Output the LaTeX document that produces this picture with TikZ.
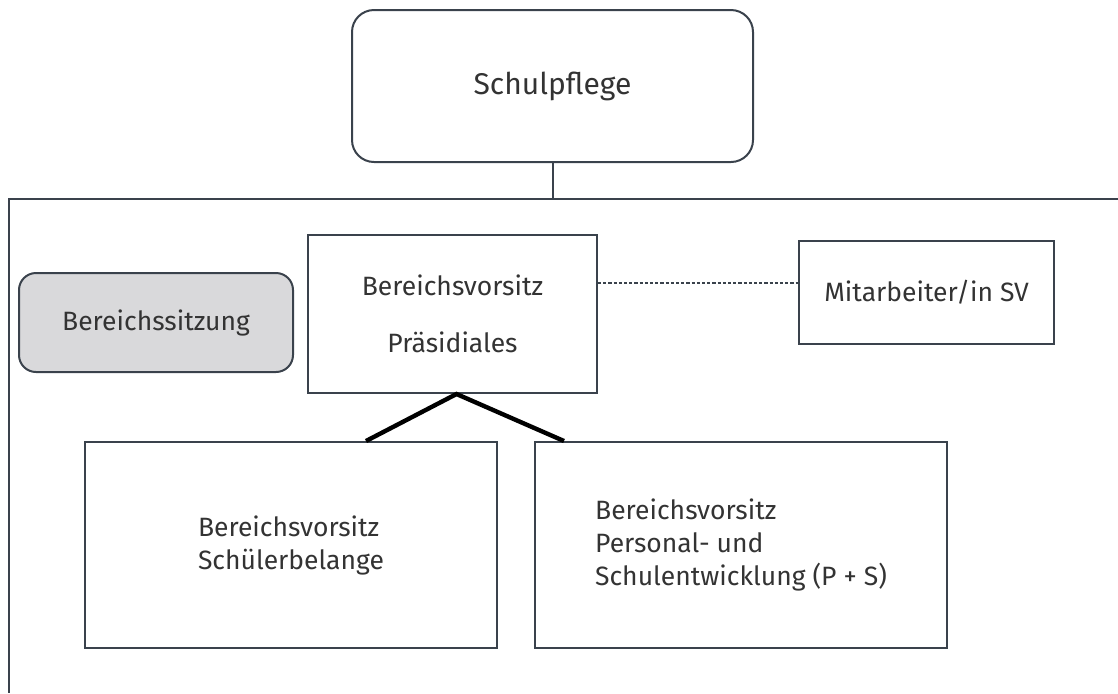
\documentclass[tikz,border=0pt]{standalone}
\usepackage{fontspec}
\setmainfont{Fira Sans}
\definecolor{rahmen}{HTML}{3A424C}
\definecolor{sitzung}{HTML}{D9D9DB}
\definecolor{schrift}{HTML}{333333}
\tikzset{
  kasten/.style={draw=rahmen, line width=1pt, text=schrift, inner sep=0pt,
    font=\fontsize{13.25}{16.5}\selectfont},
  rundkasten/.style={kasten, rounded corners=#1},
  gestrichelt/.style={draw=rahmen, line width=0.6pt, dash pattern=on 1.6pt off 1pt},
  verbindung/.style={draw=black, line width=2.2pt}
}
\begin{document}
\begin{tikzpicture}[x=0.5pt, y=-0.5pt]
            \useasboundingbox (0,0) rectangle (1118,693);

            % Bereich (Rahmen, rechts und unten abgeschnitten)
            \draw[rahmen, line width=1pt] (1118,199) -- (9,199) -- (9,693);
            \coordinate (bereich) at (552.5,199);
            \coordinate (strich) at (0,283);

            \node[rundkasten=11pt, minimum width=200.5pt, minimum height=76pt,
                  font=\fontsize{15}{18}\selectfont] (schulpflege) at (552.5,86) {Schulpflege};
            \node[rundkasten=8.5pt, fill=sitzung, minimum width=137pt, minimum height=49.5pt] (sitzung) at (156,322.5) {Bereichssitzung};
            \node[kasten, align=center, minimum width=144.5pt, minimum height=79pt] (praesidiales) at (452.5,314) {Bereichsvorsitz\\[12pt]Präsidiales};
            \node[kasten, minimum width=127.5pt, minimum height=51.5pt] (mitarbeiter) at (926.5,292.5) {Mitarbeiter/in SV};
            \node[kasten, align=left, minimum width=206pt, minimum height=103pt] (schueler) at (291,545) {Bereichsvorsitz\\Schülerbelange};
            \node[kasten, align=left, minimum width=206pt, minimum height=103pt] (personal) at (741,545) {Bereichsvorsitz\\Personal- und\\Schulentwicklung (P + S)};

            \draw[rahmen, line width=1pt] (schulpflege.south) -- (bereich);
            \draw[gestrichelt] (praesidiales.east |- strich) -- (mitarbeiter.west |- strich);
            \draw[verbindung] ([xshift=-66pt]schueler.north east) -- ([xshift=2pt]praesidiales.south) -- ([xshift=15pt]personal.north west);
        \end{tikzpicture}
\end{document}
